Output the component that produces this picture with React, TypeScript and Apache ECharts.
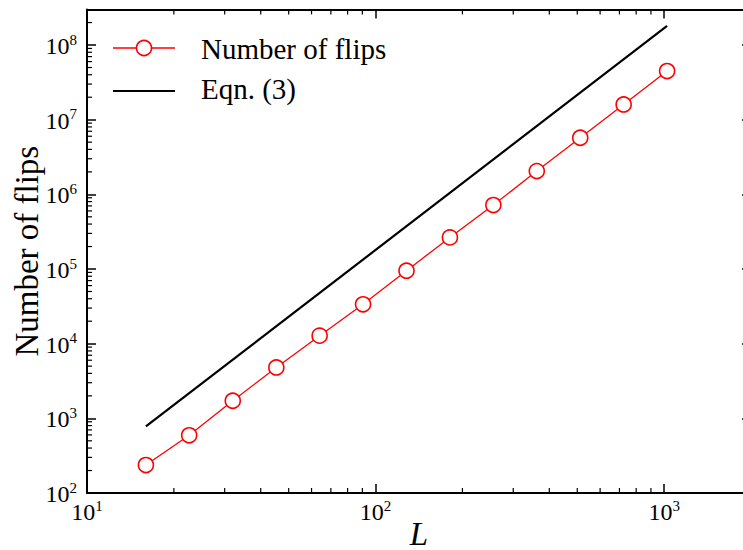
import { useEffect, useRef } from 'react';
import * as echarts from 'echarts';

const L = [16, 22.6, 32, 45.3, 64, 90.5, 128, 181, 256, 362, 512, 724, 1024];
const flips = [237, 593, 1720, 4800, 12800, 33700, 94900, 265000, 719000, 2.05e6, 5.73e6, 1.6e7, 4.48e7];
const eqnL = [16, 1024];
const eqnFlips = [780, 1.8e8];
const xRange = [10, 2000];
const yRange = [100, 3e8];
const seriesNames = ['Number of flips', 'Eqn. (3)'];
const xTitle = 'L';
const yTitle = 'Number of flips';

const FONT = 'Liberation Serif';

function minorTicks(lo: number, hi: number): number[] {
  const out: number[] = [];
  for (let d = Math.floor(Math.log10(lo)); Math.pow(10, d) < hi; d++) {
    for (let m = 2; m <= 9; m++) {
      const v = m * Math.pow(10, d);
      if (v > lo && v < hi * 0.999) out.push(v);
    }
  }
  return out;
}

const xMinor = minorTicks(xRange[0], xRange[1]);
const yMinor = minorTicks(yRange[0], yRange[1]);

const MINOR = 5;
const MAJOR = 9;

function labelCfg(margin: number, show: boolean) {
  return {
    show,
    margin,
    fontFamily: FONT,
    fontSize: 24,
    color: '#000',
    formatter: (v: number) => {
      const e = Math.log10(v);
      const r = Math.round(e);
      return Math.abs(e - r) < 1e-6 ? `{b|10}{e|${r}}` : '';
    },
    rich: {
      b: { fontFamily: FONT, fontSize: 24, lineHeight: 26, color: '#000', verticalAlign: 'bottom' },
      e: { fontFamily: FONT, fontSize: 15, lineHeight: 17, color: '#000', verticalAlign: 'top' },
    },
  };
}

const axisLine = { show: true, lineStyle: { color: '#000', width: 2 } };
const axisTick = { show: true, inside: true, length: MAJOR, lineStyle: { color: '#000', width: 1.5 } };

export default function App() {
  const ref = useRef<HTMLDivElement>(null);
  useEffect(() => {
    if (!ref.current) return;
    const chart = echarts.init(ref.current, undefined, { renderer: 'svg' });
    const tickStyle = { stroke: '#000', lineWidth: 1.2 };
    chart.setOption({
      animation: false,
      textStyle: { fontFamily: FONT },
      grid: { left: 87, top: 9.4, width: 664, height: 483.6, outerBoundsMode: 'none', containLabel: false },
      xAxis: [
        {
          type: 'log', logBase: 10, min: xRange[0], max: xRange[1], position: 'bottom',
          axisLine, axisTick, splitLine: { show: false }, axisLabel: labelCfg(5, true),
          name: xTitle, nameLocation: 'middle', nameGap: 24, nameMoveOverlap: false,
          nameTextStyle: { fontFamily: FONT, fontSize: 33, fontStyle: 'italic', color: '#000' },
        },
        {
          type: 'log', logBase: 10, min: xRange[0], max: xRange[1], position: 'top',
          axisLine, axisTick, splitLine: { show: false }, axisLabel: { show: false },
        },
      ],
      yAxis: [
        {
          type: 'log', logBase: 10, min: yRange[0], max: yRange[1], position: 'left',
          axisLine, axisTick, splitLine: { show: false }, axisLabel: labelCfg(10, true),
          name: yTitle, nameLocation: 'middle', nameGap: 44, nameRotate: 90, nameMoveOverlap: false,
          nameTextStyle: { fontFamily: FONT, fontSize: 33, color: '#000' },
        },
        {
          type: 'log', logBase: 10, min: yRange[0], max: yRange[1], position: 'right',
          axisLine, axisTick, splitLine: { show: false }, axisLabel: { show: false },
        },
      ],
      series: [
        {
          name: seriesNames[1], type: 'line', xAxisIndex: 0, yAxisIndex: 0,
          data: eqnL.map((x, i) => [x, eqnFlips[i]]),
          showSymbol: false, symbol: 'none',
          lineStyle: { color: '#000', width: 2.2 }, itemStyle: { color: '#000' }, silent: true,
        },
        {
          name: seriesNames[0], type: 'line', xAxisIndex: 0, yAxisIndex: 0,
          data: L.map((x, i) => [x, flips[i]]),
          symbol: 'circle', symbolSize: 15,
          lineStyle: { color: '#ff0000', width: 1.3 },
          itemStyle: { color: '#ffffff', borderColor: '#ff0000', borderWidth: 1.6 },
          silent: true, z: 3,
        },
        {
          type: 'custom', coordinateSystem: 'cartesian2d', xAxisIndex: 0, yAxisIndex: 0,
          silent: true, clip: false,
          data: xMinor.map((v) => [v, yRange[0]]),
          encode: { x: 0, y: 1 },
          renderItem: (_p: any, api: any) => {
            const v = api.value(0);
            const b = api.coord([v, yRange[0]]);
            const t = api.coord([v, yRange[1]]);
            return {
              type: 'group',
              children: [
                { type: 'line', shape: { x1: b[0], y1: b[1], x2: b[0], y2: b[1] - MINOR }, style: tickStyle },
                { type: 'line', shape: { x1: t[0], y1: t[1], x2: t[0], y2: t[1] + MINOR }, style: tickStyle },
              ],
            };
          },
        },
        {
          type: 'custom', coordinateSystem: 'cartesian2d', xAxisIndex: 0, yAxisIndex: 0,
          silent: true, clip: false,
          data: yMinor.map((v) => [xRange[0], v]),
          encode: { x: 0, y: 1 },
          renderItem: (_p: any, api: any) => {
            const v = api.value(1);
            const l = api.coord([xRange[0], v]);
            const r = api.coord([xRange[1], v]);
            return {
              type: 'group',
              children: [
                { type: 'line', shape: { x1: l[0], y1: l[1], x2: l[0] + MINOR, y2: l[1] }, style: tickStyle },
                { type: 'line', shape: { x1: r[0], y1: r[1], x2: r[0] - MINOR, y2: r[1] }, style: tickStyle },
              ],
            };
          },
        },
      ],
      graphic: [
        { type: 'line', shape: { x1: 113, y1: 48, x2: 175, y2: 48 }, style: { stroke: '#ff0000', lineWidth: 1.3 } },
        { type: 'circle', shape: { cx: 144, cy: 48, r: 7.5 }, style: { fill: '#fff', stroke: '#ff0000', lineWidth: 1.6 } },
        {
          type: 'text', x: 201, y: 49,
          style: { text: seriesNames[0], fontFamily: FONT, fontSize: 29, fill: '#000', align: 'left', verticalAlign: 'middle' },
        },
        { type: 'line', shape: { x1: 113, y1: 91, x2: 175, y2: 91 }, style: { stroke: '#000', lineWidth: 2.2 } },
        {
          type: 'text', x: 201, y: 89,
          style: { text: seriesNames[1], fontFamily: FONT, fontSize: 29, fill: '#000', align: 'left', verticalAlign: 'middle' },
        },
      ],
    });
    return () => chart.dispose();
  }, []);

  return (
    <div style={{ position: 'fixed', left: 0, top: 0, width: 743, height: 550, overflow: 'hidden', background: '#fff' }}>
      <div ref={ref} style={{ width: 780, height: 550 }} />
    </div>
  );
}
